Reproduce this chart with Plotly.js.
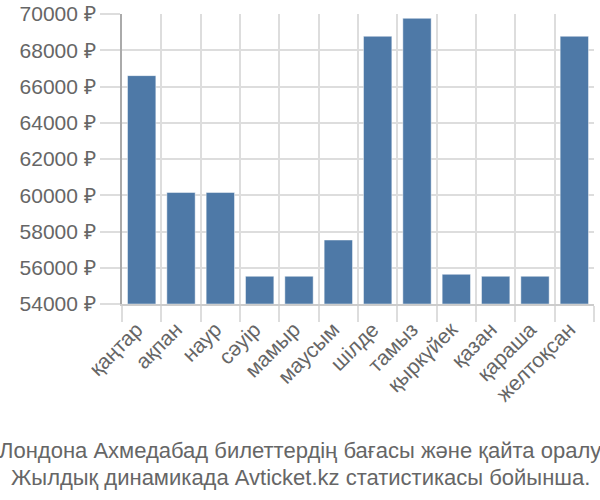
<!DOCTYPE html>
<html>
<head>
<meta charset="utf-8">
<script src="https://cdn.plot.ly/plotly-3.0.1.min.js"></script>
<style>html,body{margin:0;padding:0;background:#fff;}#chart{width:600px;height:500px;}</style>
</head>
<body>
<div id="chart"></div>
<script>
const months = ["қаңтар","ақпан","наур","сәуір","мамыр","маусым","шілде","тамыз","қыркүйек","қазан","қараша","желтоқсан"];
const prices = [66600, 60150, 60150, 55530, 55530, 57530, 68770, 69760, 55640, 55530, 55530, 68770];
const yTicks = [54000, 56000, 58000, 60000, 62000, 64000, 66000, 68000, 70000];
const yTickLabels = yTicks.map(v => v + " ₽");
const titleLines = ["Лондона Ахмедабад билеттердің бағасы және қайта оралу", "Жылдық динамикада Avticket.kz статистикасы бойынша."];

const font = "Liberation Sans, Arial, sans-serif";
const ML = 122, MR = 6, W = 600;
const centerX = (W / 2 - ML) / (W - ML - MR);
Plotly.newPlot("chart", [{
  type: "bar",
  x: months,
  base: 54000,
  y: prices.map(v => v - 54000),
  marker: {color: "#4e79a7", line: {color: "rgba(255,255,255,0.45)", width: 1}},
  hoverinfo: "none"
}], {
  width: 600, height: 500,
  margin: {l: ML, r: MR, t: 14, b: 196},
  paper_bgcolor: "#fff", plot_bgcolor: "#fff",
  bargap: 0.28,
  font: {family: font, size: 21, color: "#666"},
  xaxis: {
    type: "category",
    tickson: "boundaries",
    ticks: "outside", ticklen: 16, tickcolor: "#ddd", tickwidth: 2,
    showgrid: true, gridcolor: "#ddd", gridwidth: 2,
    tickangle: -45,
    ticklabelshift: -5,
    ticklabelstandoff: 3,
    tickfont: {family: font, size: 21, color: "#666"},
    showline: true, linecolor: "#ccc", linewidth: 2,
    fixedrange: true
  },
  yaxis: {
    range: [54000, 70000],
    tickvals: yTicks, ticktext: yTickLabels,
    ticks: "outside", ticklen: 20, tickcolor: "#ddd", tickwidth: 2,
    showgrid: true, gridcolor: "#ddd", gridwidth: 2,
    zeroline: false,
    showline: true, linecolor: "#aaa", linewidth: 2,
    tickfont: {family: font, size: 21, color: "#666"},
    fixedrange: true
  },
  annotations: titleLines.map((t, i) => ({
    text: t, xref: "paper", yref: "paper", x: centerX, xanchor: "center",
    y: 0, yshift: -146 - i * 27, yanchor: "middle",
    showarrow: false, font: {family: font, size: 22, color: "#666"}
  })),
  showlegend: false
}, {displayModeBar: false, staticPlot: true});
</script>
</body>
</html>
